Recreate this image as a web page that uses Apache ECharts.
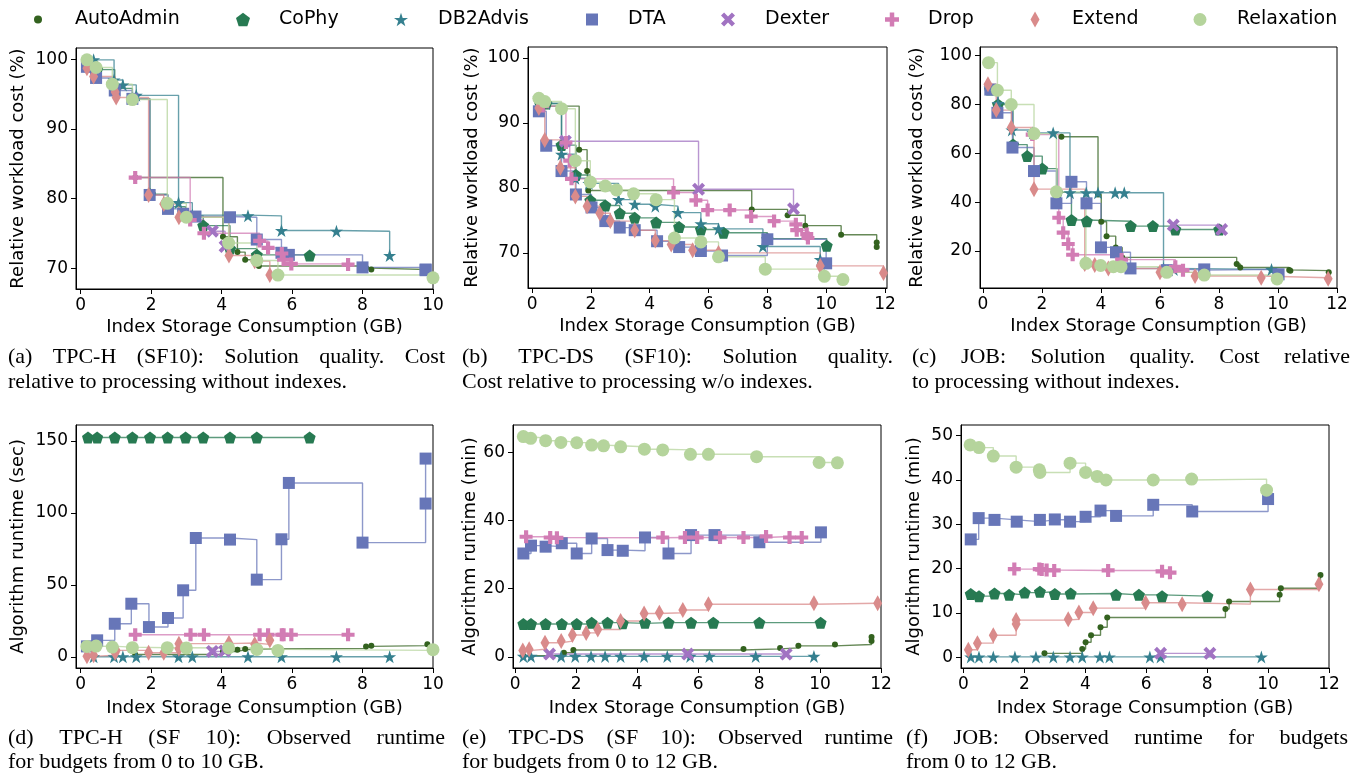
<!DOCTYPE html>
<html>
<head>
<meta charset="utf-8">
<title>Index selection: solution quality and runtime</title>
<script src="https://cdn.jsdelivr.net/npm/echarts@6/dist/echarts.min.js"></script>
<style>
  html, body { margin: 0; padding: 0; background: #fff; }
  #chart { width: 1362px; height: 773px; }
</style>
</head>
<body>
<div id="chart"></div>
<script>
// ---------- data ----------
// (a) TPC-H cost (%)
var tpchCost_AutoAdmin = [[1.55,83.0],[4.04,74.5],[4.45,72.3],[4.67,71.2],[5.06,70.3],[8.1,70.0],[8.25,69.8],[9.84,69.7]];
var tpchCost_CoPhy = [[0.21,99.7],[0.47,98.5],[0.97,95.8],[1.47,94.3],[1.97,80.6],[2.47,78.8],[2.98,77.5],[3.48,76.1],[4.24,72.8],[5.0,71.9],[6.5,71.8]];
var tpchCost_DB2Advis = [[0.37,99.9],[0.95,97.0],[1.2,96.3],[1.58,94.8],[2.78,79.4],[3.17,77.6],[4.75,77.5],[5.7,75.4],[7.26,75.3],[8.77,71.8]];
var tpchCost_DTA = [[0.18,98.9],[0.44,97.3],[0.97,95.5],[1.47,94.3],[1.96,80.5],[2.48,78.5],[2.91,77.8],[3.26,77.4],[4.24,77.3],[5.0,74.1],[5.7,72.2],[5.91,71.9],[8.0,70.1],[9.79,69.8],[9.79,69.7]];
var tpchCost_Dexter = [[3.74,75.3],[4.1,73.1]];
var tpchCost_Drop = [[1.55,83.0],[3.11,76.9],[3.5,75.0],[5.08,73.9],[5.32,72.9],[5.71,72.1],[5.76,71.2],[5.98,70.6],[7.59,70.5]];
var tpchCost_Extend = [[0.18,98.7],[0.37,97.5],[0.98,95.3],[1.01,94.5],[1.93,80.5],[2.36,79.2],[2.79,77.3],[4.21,71.8],[4.94,71.0],[5.37,69.0]];
var tpchCost_Relaxation = [[0.18,99.9],[0.44,98.8],[0.9,96.4],[1.47,94.2],[2.46,79.3],[3.0,77.3],[4.2,73.6],[5.0,71.1],[5.6,69.0],[10.0,68.6]];

// (b) TPC-DS cost (%)
var tpcdsCost_AutoAdmin = [[0.23,92.6],[1.6,85.9],[1.87,82.6],[1.91,79.6],[7.47,76.7],[8.69,75.8],[9.29,74.2],[10.51,72.8],[11.72,71.6],[11.72,70.9]];
var tpcdsCost_CoPhy = [[0.23,93.6],[0.48,93.0],[1.0,86.6],[1.49,82.0],[1.98,78.1],[2.49,77.3],[2.98,76.1],[3.49,75.4],[4.22,74.7],[5.0,74.0],[5.74,73.6],[6.51,73.1],[8.0,72.2],[10.02,71.1]];
var tpcdsCost_DB2Advis = [[0.23,93.8],[0.48,93.0],[1.0,85.2],[1.47,81.5],[1.93,80.7],[2.94,78.2],[3.49,77.5],[4.19,77.2],[4.96,76.2],[5.74,74.5],[6.34,73.7],[7.85,71.0],[9.8,69.0]];
var tpcdsCost_DTA = [[0.23,91.8],[0.48,86.5],[1.0,82.6],[1.49,79.0],[2.02,77.0],[2.49,74.9],[2.98,73.9],[3.49,73.5],[4.25,71.8],[5.0,70.9],[5.74,70.3],[6.46,69.6],[8.0,72.1],[10.0,68.4]];
var tpcdsCost_Dexter = [[1.13,87.2],[5.66,79.8],[8.89,76.8]];
var tpcdsCost_Drop = [[0.36,92.6],[1.15,87.0],[1.28,84.2],[1.34,81.4],[4.81,79.3],[5.57,78.1],[5.97,76.6],[6.72,76.6],[7.45,75.6],[8.23,74.9],[8.97,74.4],[9.0,73.5],[9.34,72.9],[9.38,72.3]];
var tpcdsCost_Extend = [[0.23,92.3],[0.43,87.4],[0.96,83.1],[1.47,78.7],[1.87,77.2],[2.3,76.1],[2.66,74.9],[3.49,73.5],[4.19,71.9],[4.73,71.3],[5.46,70.4],[6.34,70.0],[9.8,68.0],[11.95,66.9]];
var tpcdsCost_Relaxation = [[0.23,93.8],[0.43,93.3],[1.0,92.2],[1.47,84.2],[1.98,80.9],[2.49,80.3],[2.87,79.7],[3.45,79.1],[4.22,78.2],[4.84,72.3],[5.74,71.7],[6.34,69.4],[7.93,67.5],[9.94,66.4],[10.57,65.9]];

// (c) JOB cost (%)
var jobCost_AutoAdmin = [[2.66,66.7],[3.9,43.1],[4.01,32.0],[4.19,26.1],[4.5,21.5],[4.72,17.4],[8.6,14.7],[8.72,13.3],[10.38,12.3],[10.42,12.0],[11.72,11.3]];
var jobCost_CoPhy = [[0.24,86.0],[0.51,79.9],[1.02,63.5],[1.5,58.8],[2.01,53.7],[2.51,44.0],[3.0,32.7],[3.52,32.2],[5.01,30.2],[5.76,30.2],[6.52,28.8],[8.01,28.8]];
var jobCost_DB2Advis = [[0.24,86.5],[0.51,80.3],[0.98,69.5],[1.69,68.3],[2.38,68.3],[2.95,43.8],[3.5,43.8],[3.9,43.8],[4.48,43.8],[4.79,43.8],[6.12,12.9],[6.47,12.5],[9.78,12.5]];
var jobCost_DTA = [[0.25,86.0],[0.49,76.5],[1.0,62.3],[1.73,52.7],[2.49,39.5],[3.0,48.3],[3.51,39.5],[4.0,21.5],[4.51,19.5],[5.0,12.9],[6.23,12.2],[7.5,12.5],[10.02,10.5]];
var jobCost_Dexter = [[6.45,30.6],[8.09,28.8]];
var jobCost_Drop = [[1.67,67.6],[2.57,33.6],[2.72,27.5],[2.89,22.9],[3.04,18.5],[4.7,16.5],[6.52,13.6],[6.78,12.2]];
var jobCost_Extend = [[0.17,88.2],[0.45,77.6],[0.96,70.5],[1.73,45.3],[3.45,14.7],[3.79,14.3],[4.25,12.9],[6.0,11.3],[7.19,9.8],[9.43,9.1],[11.7,8.7]];
var jobCost_Relaxation = [[0.19,97.0],[0.49,85.7],[0.96,79.9],[1.73,68.0],[2.49,44.2],[3.49,15.0],[3.99,14.1],[4.42,13.6],[4.68,13.6],[6.23,11.3],[7.5,10.2],[9.97,8.6]];

// (d) TPC-H runtime (sec)
var tpchTime_AutoAdmin = [[1.55,1.8],[4.04,3.9],[4.45,5.1],[4.67,5.6],[5.06,6.0],[8.1,7.4],[8.25,7.9],[9.84,8.8]];
var tpchTime_CoPhy = [[0.21,152.3],[0.47,152.3],[0.97,152.3],[1.47,152.3],[1.97,152.3],[2.47,152.3],[2.98,152.3],[3.48,152.3],[4.24,152.3],[5.0,152.3],[6.5,152.3]];
var tpchTime_DB2Advis = [[0.37,0.2],[0.95,0.2],[1.2,0.2],[1.58,0.2],[2.78,0.2],[3.17,0.2],[4.75,0.2],[5.7,0.2],[7.26,0.2],[8.77,0.2]];
var tpchTime_DTA = [[0.18,7.4],[0.47,11.6],[0.97,23.1],[1.44,37.0],[1.94,20.8],[2.48,27.1],[2.91,46.3],[3.27,82.6],[4.24,81.5],[5.0,53.7],[5.7,81.7],[5.91,120.8],[8.0,79.4],[9.79,106.5],[9.79,137.7]];
var tpchTime_Dexter = [[3.74,3.9],[4.09,4.2]];
var tpchTime_Drop = [[1.55,15.5],[3.12,15.5],[3.5,15.5],[5.08,15.5],[5.32,15.5],[5.71,15.5],[5.76,15.5],[5.98,15.5],[7.59,15.5]];
var tpchTime_Extend = [[0.18,0.5],[0.37,1.2],[0.98,3.0],[1.01,4.6],[1.93,3.0],[2.36,3.0],[2.79,5.8],[2.79,9.3],[4.21,9.7],[4.94,8.8],[5.37,11.6]];
var tpchTime_Relaxation = [[0.18,7.4],[0.44,7.6],[0.9,6.9],[1.47,6.5],[2.46,6.5],[3.0,6.3],[4.2,6.3],[5.0,5.3],[5.6,4.6],[10.0,5.1]];

// (e) TPC-DS runtime (min)
var tpcdsTime_AutoAdmin = [[0.27,0.3],[1.6,1.2],[1.91,2.0],[7.49,2.3],[8.69,2.6],[9.29,3.2],[10.49,3.6],[11.69,4.6],[11.69,5.8]];
var tpcdsTime_CoPhy = [[0.27,9.6],[0.52,9.6],[1.0,9.6],[1.53,9.6],[2.02,9.6],[2.51,10.0],[3.03,10.0],[3.53,9.8],[4.26,10.0],[5.03,10.0],[5.77,10.0],[6.5,10.0],[8.01,10.0],[10.02,10.0]];
var tpcdsTime_DB2Advis = [[0.27,0.1],[0.52,0.1],[1.51,0.1],[1.97,0.1],[2.49,0.1],[2.95,0.1],[3.46,0.1],[4.23,0.1],[4.99,0.1],[5.74,0.1],[6.37,0.1],[7.89,0.1],[9.8,0.1]];
var tpcdsTime_DTA = [[0.27,30.3],[0.52,32.6],[1.0,32.3],[1.53,33.3],[2.02,30.3],[2.51,34.7],[3.03,31.3],[3.53,31.1],[4.26,35.0],[5.03,30.3],[5.77,35.7],[6.54,35.7],[8.01,33.6],[10.03,36.5]];
var tpcdsTime_Dexter = [[1.13,0.8],[5.66,0.8],[8.89,0.8]];
var tpcdsTime_Drop = [[0.36,35.2],[1.15,35.0],[1.37,34.9],[4.84,35.0],[5.57,35.0],[5.97,35.0],[6.72,35.0],[7.49,35.0],[8.23,35.3],[9.0,35.0],[9.4,35.0]];
var tpcdsTime_Extend = [[0.25,1.8],[0.46,2.2],[0.98,4.1],[1.51,4.6],[1.88,6.4],[2.33,7.0],[2.71,8.0],[3.46,10.5],[4.23,12.7],[4.73,12.9],[5.5,13.7],[6.34,15.4],[9.8,15.7],[11.89,15.7]];
var tpcdsTime_Relaxation = [[0.27,64.6],[0.51,64.1],[1.0,63.4],[1.5,62.9],[2.02,62.8],[2.51,62.1],[2.9,61.9],[3.46,61.6],[4.24,60.9],[4.84,60.7],[5.75,59.4],[6.34,59.4],[7.92,58.7],[9.97,57.0],[10.57,56.9]];

// (f) JOB runtime (min)
var jobTime_AutoAdmin = [[2.66,0.9],[3.9,1.9],[4.01,3.4],[4.19,5.0],[4.5,6.8],[4.72,9.0],[8.6,10.9],[8.72,12.6],[10.38,14.1],[10.42,15.6],[11.72,18.6]];
var jobTime_CoPhy = [[0.24,14.3],[0.51,13.8],[1.02,14.4],[1.5,14.1],[2.01,14.6],[2.51,14.8],[3.0,14.3],[3.52,14.4],[5.01,14.1],[5.76,14.1],[6.52,13.8],[8.01,13.8]];
var jobTime_DB2Advis = [[0.24,0.1],[0.51,0.1],[0.98,0.1],[1.69,0.1],[2.38,0.1],[2.95,0.1],[3.5,0.1],[3.9,0.1],[4.48,0.1],[4.79,0.1],[6.12,0.1],[6.47,0.1],[9.78,0.1]];
var jobTime_DTA = [[0.24,26.6],[0.5,31.4],[1.02,31.0],[1.75,30.6],[2.51,31.0],[3.0,31.1],[3.5,30.6],[4.01,31.7],[4.5,33.1],[5.01,31.9],[6.23,34.4],[7.51,32.9],[10.0,35.7]];
var jobTime_Dexter = [[6.47,0.9],[8.09,0.9]];
var jobTime_Drop = [[1.67,19.9],[2.49,19.9],[2.57,19.8],[2.73,19.7],[2.98,19.6],[4.75,19.6],[6.52,19.4],[6.78,19.1]];
var jobTime_Extend = [[0.16,1.7],[0.46,3.2],[0.98,5.0],[1.73,7.5],[1.73,8.4],[3.44,8.6],[3.79,10.1],[4.26,11.1],[5.98,12.3],[7.18,12.0],[9.42,15.3],[11.67,16.5]];
var jobTime_Relaxation = [[0.22,47.9],[0.51,47.3],[0.98,45.4],[1.73,42.9],[2.49,42.3],[2.51,41.7],[3.5,43.8],[4.01,41.7],[4.39,40.8],[4.68,40.0],[6.23,40.0],[7.49,40.2],[9.95,37.7]];

// tick labels
var xTicks10 = [0, 2, 4, 6, 8, 10];
var xTicks12 = [0, 2, 4, 6, 8, 10, 12];
var yTicksTpchCost = [70, 80, 90, 100];
var yTicksTpcdsCost = [70, 80, 90, 100];
var yTicksJobCost = [20, 40, 60, 80, 100];
var yTicksTpchTime = [0, 50, 100, 150];
var yTicksTpcdsTime = [0, 20, 40, 60];
var yTicksJobTime = [0, 10, 20, 30, 40, 50];

var algorithms = ['AutoAdmin', 'CoPhy', 'DB2Advis', 'DTA', 'Dexter', 'Drop', 'Extend', 'Relaxation'];

var captions = [
  ['(a) TPC-H (SF10): Solution quality. Cost', 'relative to processing without indexes.'],
  ['(b) TPC-DS (SF10): Solution quality.', 'Cost relative to processing w/o indexes.'],
  ['(c) JOB: Solution quality. Cost relative', 'to processing without indexes.'],
  ['(d) TPC-H (SF 10): Observed runtime', 'for budgets from 0 to 10 GB.'],
  ['(e) TPC-DS (SF 10): Observed runtime', 'for budgets from 0 to 12 GB.'],
  ['(f) JOB: Observed runtime for budgets', 'from 0 to 12 GB.']
];

// ---------- styling ----------
var colors = {
  AutoAdmin: '#33621f', CoPhy: '#277a52', DB2Advis: '#35808f', DTA: '#6776b8',
  Dexter: '#a173c2', Drop: '#d27cb4', Extend: '#d98b8b', Relaxation: '#b5d49c'
};
var PENTAGON = 'path://M50,0 L97.6,34.5 L79.4,90.5 L20.6,90.5 L2.4,34.5 Z';
var STAR = 'path://M50,0 L61.8,35.5 L99,35.5 L69,57.5 L80.5,93 L50,71 L19.5,93 L31,57.5 L1,35.5 L38.2,35.5 Z';
var PLUS = 'path://M34,0 H66 V34 H100 V66 H66 V100 H34 V66 H0 V34 H34 Z';
var XMARK = 'path://M22,0 L50,28 L78,0 L100,22 L72,50 L100,78 L78,100 L50,72 L22,100 L0,78 L28,50 L0,22 Z';
var symbols = {
  AutoAdmin: ['circle', 6], CoPhy: [PENTAGON, 12], DB2Advis: [STAR, 13], DTA: ['rect', 12],
  Dexter: [XMARK, 13], Drop: [PLUS, 13], Extend: ['diamond', [9, 16]], Relaxation: ['circle', 13]
};

var panels = [
  { data: [tpchCost_AutoAdmin, tpchCost_CoPhy, tpchCost_DB2Advis, tpchCost_DTA, tpchCost_Dexter, tpchCost_Drop, tpchCost_Extend, tpchCost_Relaxation],
    grid: [76, 48, 357, 241], x: [-0.13, 10, xTicks10], y: [67, 101.6, yTicksTpchCost], yName: 'Relative workload cost (%)', yGap: 49 },
  { data: [tpcdsCost_AutoAdmin, tpcdsCost_CoPhy, tpcdsCost_DB2Advis, tpcdsCost_DTA, tpcdsCost_Dexter, tpcdsCost_Drop, tpcdsCost_Extend, tpcdsCost_Relaxation],
    grid: [528, 47, 359, 241], x: [-0.14, 12.07, xTicks12], y: [64.6, 101.7, yTicksTpcdsCost], yName: 'Relative workload cost (%)', yGap: 47 },
  { data: [jobCost_AutoAdmin, jobCost_CoPhy, jobCost_DB2Advis, jobCost_DTA, jobCost_Dexter, jobCost_Drop, jobCost_Extend, jobCost_Relaxation],
    grid: [980, 47, 357, 241], x: [-0.1, 12, xTicks12], y: [4.9, 103.4, yTicksJobCost], yName: 'Relative workload cost (%)', yGap: 54 },
  { data: [tpchTime_AutoAdmin, tpchTime_CoPhy, tpchTime_DB2Advis, tpchTime_DTA, tpchTime_Dexter, tpchTime_Drop, tpchTime_Extend, tpchTime_Relaxation],
    grid: [76, 425, 357, 243], x: [-0.13, 10, xTicks10], y: [-7.6, 161, yTicksTpchTime], yName: 'Algorithm runtime (sec)', yGap: 49 },
  { data: [tpcdsTime_AutoAdmin, tpcdsTime_CoPhy, tpcdsTime_DB2Advis, tpcdsTime_DTA, tpcdsTime_Dexter, tpcdsTime_Drop, tpcdsTime_Extend, tpcdsTime_Relaxation],
    grid: [513, 425, 368, 243], x: [-0.07, 12, xTicks12], y: [-3.3, 68, yTicksTpcdsTime], yName: 'Algorithm runtime (min)', yGap: 34 },
  { data: [jobTime_AutoAdmin, jobTime_CoPhy, jobTime_DB2Advis, jobTime_DTA, jobTime_Dexter, jobTime_Drop, jobTime_Extend, jobTime_Relaxation],
    grid: [961, 425, 368, 243], x: [-0.08, 12, xTicks12], y: [-2.4, 52.4, yTicksJobTime], yName: 'Algorithm runtime (min)', yGap: 38 }
];

var SANS = 'DejaVu Sans';
var SERIF = 'Liberation Serif';

var grids = [], xAxes = [], yAxes = [], series = [];
panels.forEach(function (p, i) {
  grids.push({ left: p.grid[0], top: p.grid[1], width: p.grid[2], height: p.grid[3],
    show: true, borderColor: '#000', borderWidth: 1, outerBoundsMode: 'none' });
  xAxes.push({
    gridIndex: i, type: 'value', min: p.x[0], max: p.x[1],
    name: 'Index Storage Consumption (GB)', nameLocation: 'middle', nameGap: i < 3 ? 29 : 31,
    nameTextStyle: { fontFamily: SANS, fontSize: 18, color: '#000' },
    axisLine: { show: true, onZero: false, lineStyle: { color: '#000', width: 1 } },
    axisTick: { show: true, length: 5, customValues: p.x[2], lineStyle: { color: '#000' } },
    axisLabel: { customValues: p.x[2], fontFamily: SANS, fontSize: 17, color: '#000', margin: 8 },
    splitLine: { show: false }
  });
  yAxes.push({
    gridIndex: i, type: 'value', min: p.y[0], max: p.y[1],
    name: p.yName, nameLocation: 'middle', nameGap: p.yGap,
    nameTextStyle: { fontFamily: SANS, fontSize: 18, color: '#000' },
    axisLine: { show: true, onZero: false, lineStyle: { color: '#000', width: 1 } },
    axisTick: { show: true, length: 5, customValues: p.y[2], lineStyle: { color: '#000' } },
    axisLabel: { customValues: p.y[2], fontFamily: SANS, fontSize: 17, color: '#000', margin: 8 },
    splitLine: { show: false }
  });
  algorithms.forEach(function (name, k) {
    var c = colors[name];
    series.push({
      type: 'line', name: name, xAxisIndex: i, yAxisIndex: i,
      data: p.data[k], step: 'end',
      symbol: symbols[name][0], symbolSize: symbols[name][1], showAllSymbol: true,
      itemStyle: { color: c, opacity: 1 },
      lineStyle: { color: c, width: 1.4, opacity: 0.75 },
      emphasis: { disabled: true }
    });
  });
});

// legend: one block per algorithm so the spacing follows the figure
var legendSpots = {
  AutoAdmin: [38, 75, 8, 8], CoPhy: [243, 279, 14, 14], DB2Advis: [401, 438, 14, 14],
  DTA: [592, 628, 12, 12], Dexter: [728, 765, 14, 14], Drop: [892, 928, 14, 14],
  Extend: [1035, 1072, 9, 16], Relaxation: [1200, 1237, 13, 13]
};
var legends = algorithms.map(function (name) {
  var s = legendSpots[name];
  return {
    data: [{ name: name, icon: symbols[name][0] }],
    left: s[0] - s[2] / 2, top: 10, padding: 0,
    itemWidth: s[2], itemHeight: s[3], selectedMode: false,
    textStyle: { fontFamily: SANS, fontSize: 19, color: '#000', padding: [0, 0, 0, s[1] - (s[0] + s[2] / 2) - 5] }
  };
});

// captions, first line justified like the LaTeX subcaption
var measure = document.createElement('canvas').getContext('2d');
var CAP_FONT = '22px "' + SERIF + '"';
measure.font = CAP_FONT;
function capText(str, x, y) {
  return { type: 'text', x: x, y: y, style: { text: str, font: CAP_FONT, fill: '#000', textVerticalAlign: 'middle' } };
}
function justified(str, x0, x1, y) {
  var words = str.split(' ');
  var w = words.map(function (t) { return measure.measureText(t).width; });
  var total = w.reduce(function (a, b) { return a + b; }, 0);
  var gap = (x1 - x0 - total) / (words.length - 1);
  var x = x0, out = [];
  words.forEach(function (t, i) { out.push(capText(t, x, y)); x += w[i] + gap; });
  return out;
}
var capCols = [[8, 445, 357, 382], [462, 893, 357, 382], [912, 1350, 357, 382],
               [8, 445, 738, 762], [462, 893, 738, 762], [906, 1348, 738, 762]];
var graphics = [];
captions.forEach(function (c, i) {
  var col = capCols[i];
  graphics = graphics.concat(justified(c[0], col[0], col[1], col[2]));
  graphics.push(capText(c[1], col[0], col[3]));
});

var chart = echarts.init(document.getElementById('chart'), null, { renderer: 'canvas' });
chart.setOption({
  animation: false,
  backgroundColor: '#fff',
  legend: legends,
  grid: grids,
  xAxis: xAxes,
  yAxis: yAxes,
  series: series,
  graphic: graphics
});
</script>
</body>
</html>
